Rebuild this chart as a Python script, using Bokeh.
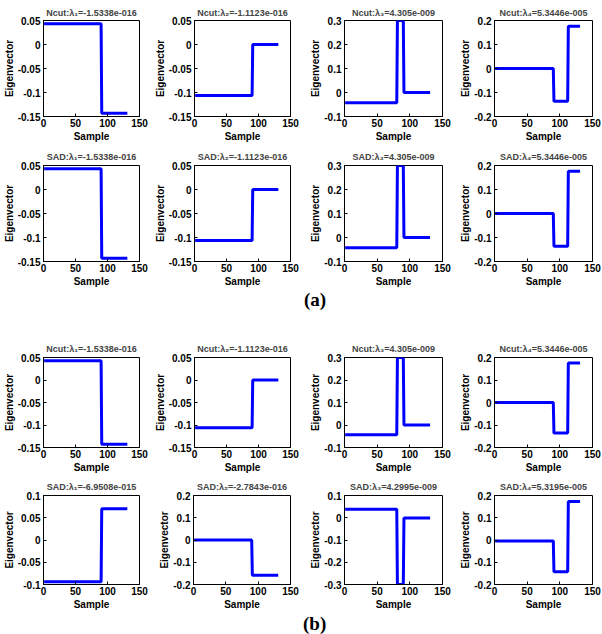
from bokeh.plotting import figure
from bokeh.layouts import column, row
from bokeh.models import Div, Spacer, FixedTicker, Range1d
from bokeh.embed import file_html
from bokeh.resources import INLINE

# ---------------- data ----------------
x_ticks = [0, 50, 100, 150]
x_tick_labels = ["0", "50", "100", "150"]

titles_a_ncut = ["Ncut:λ₁=-1.5338e-016", "Ncut:λ₂=-1.1123e-016",
                 "Ncut:λ₃=4.305e-009", "Ncut:λ₄=5.3446e-005"]
titles_a_sad = ["SAD:λ₁=-1.5338e-016", "SAD:λ₂=-1.1123e-016",
                "SAD:λ₃=4.305e-009", "SAD:λ₄=5.3446e-005"]
titles_b_ncut = ["Ncut:λ₁=-1.5338e-016", "Ncut:λ₂=-1.1123e-016",
                 "Ncut:λ₃=4.305e-009", "Ncut:λ₄=5.3446e-005"]
titles_b_sad = ["SAD:λ₁=-6.9508e-015", "SAD:λ₂=-2.7843e-016",
                "SAD:λ₃=4.2995e-009", "SAD:λ₄=5.3195e-005"]

# sample indices where the eigenvector values change
sample_v1 = [1, 90, 91, 131]
sample_v2 = [1, 90, 91, 131]
sample_v3 = [1, 80, 81, 90, 91, 131]
sample_v4 = [1, 90, 91, 112, 113, 131]

# Ncut eigenvectors (same in (a) Ncut, (a) SAD and (b) Ncut)
ncut_v1 = [0.043, 0.043, -0.143, -0.143]
ncut_v2 = [-0.106, -0.106, 0.0, 0.0]
ncut_v3 = [-0.043, -0.043, 0.3, 0.3, 0.0, 0.0]
ncut_v4 = [0.0, 0.0, -0.136, -0.136, 0.176, 0.176]

# SAD eigenvectors in (b)
sadb_v1 = [-0.094, -0.094, 0.07, 0.07]
sadb_v2 = [0.0, 0.0, -0.158, -0.158]
sadb_v3 = [0.038, 0.038, -0.3, -0.3, -0.001, -0.001]
sadb_v4 = [-0.004, -0.004, -0.143, -0.143, 0.173, 0.173]

ncut_yticks = [[-0.15, -0.1, -0.05, 0, 0.05], [-0.15, -0.1, -0.05, 0, 0.05],
               [-0.1, 0, 0.1, 0.2, 0.3], [-0.2, -0.1, 0, 0.1, 0.2]]
ncut_ylabels = [["-0.15", "-0.1", "-0.05", "0", "0.05"], ["-0.15", "-0.1", "-0.05", "0", "0.05"],
                ["-0.1", "0", "0.1", "0.2", "0.3"], ["-0.2", "-0.1", "0", "0.1", "0.2"]]
sadb_yticks = [[-0.1, -0.05, 0, 0.05, 0.1], [-0.2, -0.1, 0, 0.1, 0.2],
               [-0.3, -0.2, -0.1, 0, 0.1], [-0.2, -0.1, 0, 0.1, 0.2]]
sadb_ylabels = [["-0.1", "-0.05", "0", "0.05", "0.1"], ["-0.2", "-0.1", "0", "0.1", "0.2"],
                ["-0.3", "-0.2", "-0.1", "0", "0.1"], ["-0.2", "-0.1", "0", "0.1", "0.2"]]

samples = [sample_v1, sample_v2, sample_v3, sample_v4]
ncut_vals = [ncut_v1, ncut_v2, ncut_v3, ncut_v4]
sadb_vals = [sadb_v1, sadb_v2, sadb_v3, sadb_v4]

# ---------------- layout / style ----------------
FONT = "Liberation Sans"
col_widths = [151, 151, 150, 150]
frame_widths = [97, 97, 98, 98]
LEFT = 42


def panel(ci, title, xs, ys, yticks, ylabels, height, top, bottom, standoff):
    w = col_widths[ci]
    right = w - LEFT - frame_widths[ci]
    p = figure(width=w, height=height, output_backend="svg", toolbar_location=None,
               x_range=Range1d(0, 150), y_range=Range1d(yticks[0], yticks[-1]),
               min_border_left=LEFT, min_border_right=right,
               min_border_top=top, min_border_bottom=bottom,
               background_fill_color="white", border_fill_color="white")
    p.title.text = title
    p.title.align = "center"
    p.title.text_font = FONT
    p.title.text_font_size = "9px"
    p.title.text_font_style = "bold"
    p.title.standoff = standoff
    p.title.offset = 0
    p.grid.visible = False
    p.outline_line_color = "black"
    p.outline_line_width = 1

    p.line(xs, ys, line_color="#0000ff", line_width=3)

    p.xaxis.ticker = FixedTicker(ticks=x_ticks)
    p.xaxis.major_label_overrides = dict(zip(x_ticks, x_tick_labels))
    p.yaxis.ticker = FixedTicker(ticks=yticks)
    p.yaxis.major_label_overrides = dict(zip(yticks, ylabels))
    p.xaxis.axis_label = "Sample"
    p.yaxis.axis_label = "Eigenvector"
    for ax in (p.xaxis[0], p.yaxis[0]):
        ax.axis_line_color = "black"
        ax.major_tick_line_color = "black"
        ax.major_tick_in = 3
        ax.major_tick_out = 0
        ax.minor_tick_line_color = None
        ax.major_label_text_font = FONT
        ax.major_label_text_font_size = "10px"
        ax.major_label_text_font_style = "bold"
        ax.major_label_text_color = "black"
        ax.axis_label_text_font = FONT
        ax.axis_label_text_font_size = "10px"
        ax.axis_label_text_font_style = "bold"
        ax.axis_label_text_color = "black"
    p.xaxis.major_label_standoff = 2
    p.xaxis.axis_label_standoff = 1
    p.yaxis.major_label_standoff = 3
    p.yaxis.axis_label_standoff = 0
    return p


def make_row(titles, vals, yticks, ylabels, height, top, bottom, standoff):
    figs = [panel(i, titles[i], samples[i], vals[i], yticks[i], ylabels[i],
                  height, top, bottom, standoff) for i in range(4)]
    return row(*figs, spacing=0)


def letter(txt, height, pad_top, left):
    d = Div(text=f'<div style="font-family:\'Liberation Serif\';font-weight:bold;'
                 f'font-size:19px;line-height:19px;padding-top:{pad_top}px;color:black">{txt}</div>',
            width=40, height=height, margin=0)
    return row(Spacer(width=left, height=height, margin=0), d, spacing=0)


row1 = make_row(titles_a_ncut, ncut_vals, ncut_yticks, ncut_ylabels, 145, 20, 29, 6)
row2 = make_row(titles_a_sad, ncut_vals, ncut_yticks, ncut_ylabels, 145, 20, 29, 7)
lab_a = letter("(a)", 45, 0, 304)
row3 = make_row(titles_b_ncut, ncut_vals, ncut_yticks, ncut_ylabels, 141, 22, 29, 7)
row4 = make_row(titles_b_sad, sadb_vals, sadb_yticks, sadb_ylabels, 137, 19, 29, 7)
lab_b = letter("(b)", 20, 1, 303)

layout = column(row1, row2, lab_a, row3, row4, lab_b, spacing=0)

open("out.html", "w").write(file_html(layout, INLINE))
